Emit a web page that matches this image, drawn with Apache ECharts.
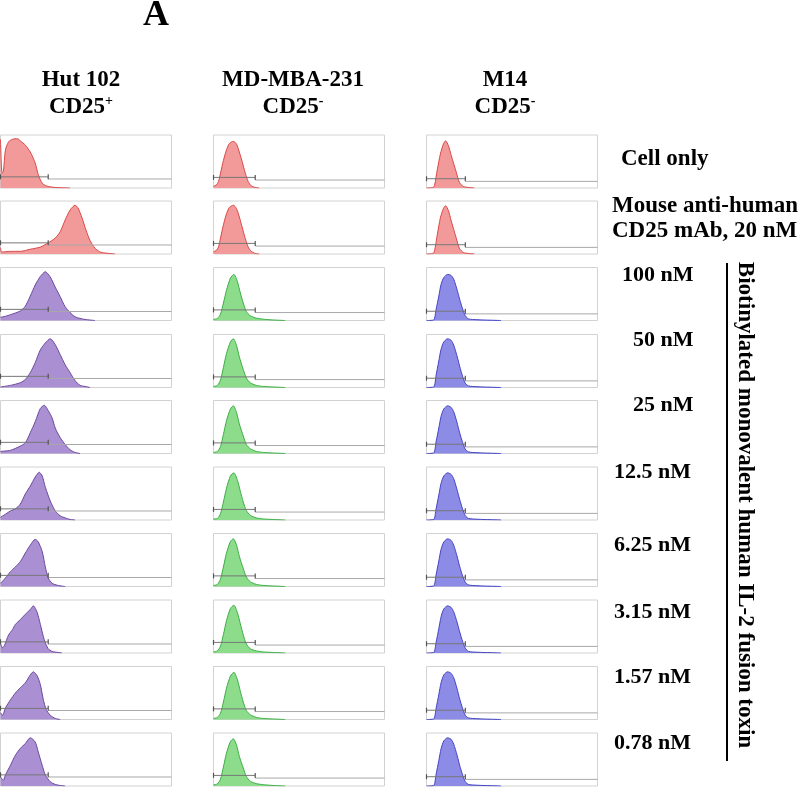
<!DOCTYPE html>
<html><head><meta charset="utf-8">
<script src="https://cdn.jsdelivr.net/npm/echarts@6/dist/echarts.min.js"></script>
<style>html,body{margin:0;padding:0;background:#fff}#c{width:800px;height:787px}</style>
</head><body><div id="c"></div><script>
// ---- labels ----
const cellLines = ['Hut 102', 'MD-MBA-231', 'M14'];
const cd25Status = ['+', '-', '-'];
const treatmentLabels = ['Cell only', 'Mouse anti-human', 'CD25 mAb, 20 nM'];
const concLabels = ['100 nM', '50 nM', '25 nM', '12.5 nM', '6.25 nM', '3.15 nM', '1.57 nM', '0.78 nM'];
const sideTitle = 'Biotinylated monovalent human IL-2 fusion toxin';
const panelTitle = 'A';

// ---- histograms: [fluorescence channel (0-100), relative count (% of max)] ----
const hut_r1 = [[0,92],[0.9,28],[1.7,32],[2.9,72],[4.7,87],[7,92],[9.9,93],[11.6,89],[14.5,81],[17.4,68],[20.3,47],[22.1,25],[24.4,9],[26.7,4],[32,1],[40.7,0]];
const hut_r2 = [[0,12],[0.6,4],[1.7,4],[5.8,5],[11.6,5],[17.4,9],[23.3,13],[27.9,21],[32,30],[34.9,42],[37.8,64],[40.7,83],[43.6,92],[45.3,87],[47.7,68],[50,45],[52.3,26],[55.2,11],[58.1,4],[61,2],[66.9,0]];
const hut_r3 = [[0,6],[2.9,8],[5.8,11],[11.6,18],[14.5,27],[17.4,46],[20.3,67],[23.3,83],[26.2,92],[29.1,82],[32,63],[34.9,45],[37.8,26],[40.7,15],[43.6,7],[46.5,4],[49.4,2],[55.2,0]];
const hut_r4 = [[0,1],[5.8,4],[11.6,9],[14.5,15],[17.4,28],[20.3,47],[23.3,71],[26.2,84],[29.1,92],[32,81],[34.9,62],[37.8,43],[40.7,28],[43.6,13],[46.5,4],[49.4,2],[52.3,0]];
const hut_r5 = [[0,4],[5.8,6],[11.6,14],[14.5,20],[17.4,39],[20.3,60],[23.3,85],[25.6,91],[27.9,81],[30.2,67],[32,48],[34.9,30],[37.8,17],[40.7,7],[43.6,2],[46.5,0]];
const hut_r6 = [[0,5],[2.9,11],[5.8,17],[8.7,21],[11.6,30],[14.5,49],[17.4,64],[20.3,81],[22.7,90],[24.4,83],[26.2,62],[29.1,36],[32,17],[34.9,8],[37.8,4],[40.7,1],[43.6,0]];
const hut_r7 = [[0,6],[2.9,16],[5.8,28],[8.7,37],[11.6,47],[14.5,63],[17.4,78],[20.3,89],[22.1,84],[24.4,66],[26.2,37],[27.9,16],[30.2,6],[33.7,2],[37.8,0]];
const hut_r8 = [[0,18],[1.2,10],[2.3,14],[4.7,34],[7,44],[8.7,54],[11.6,63],[14.5,73],[17.4,82],[19.2,89],[21.5,76],[23.3,54],[25.6,25],[27.9,8],[30.2,3],[33.7,1],[36,0]];
const hut_r9 = [[0,13],[1.2,8],[2.9,22],[5.8,37],[8.7,50],[11.6,60],[14.5,69],[17.4,84],[19.2,90],[21.5,82],[23.3,66],[25,38],[26.7,19],[29.1,8],[32,2],[34.9,0]];
const hut_r10 = [[0,17],[1.7,11],[2.9,21],[5.8,39],[8.7,58],[11.6,71],[14.5,80],[17.4,91],[20.3,83],[22.1,64],[24.4,39],[26.2,21],[29.1,8],[32,3],[34.9,1],[37.8,0]];

const mda_r1 = [[0,3],[1.7,6],[2.9,12],[4.1,28],[5.8,52],[7.6,72],[9.3,84],[11.6,88],[13.4,83],[15.1,68],[16.9,48],[18.6,28],[20.3,12],[22.1,4],[24.4,1],[26.7,0]];
const mda_r2 = [[0,4],[1.7,7],[2.9,13],[4.1,30],[5.8,55],[7.6,76],[9.3,88],[11.6,92],[13.4,86],[15.1,70],[16.9,49],[18.6,29],[20.3,13],[22.1,5],[24.4,1],[26.7,0]];
const mda_r3 = [[0,2],[2.3,4],[4.1,12],[5.8,33],[7.6,57],[9.9,80],[11.9,87],[14,73],[15.7,52],[17.4,33],[19.2,17],[21.5,9],[25,4.5],[29.1,2.5],[34.9,1],[41.9,0]];
const mda_r4 = [[0,2],[2.3,4],[4.1,14],[5.8,38],[7.6,64],[9.9,86],[11.6,92],[13.4,80],[15.1,58],[17.4,34],[19.2,18],[21.5,9],[25,4],[29.1,2],[34.9,1],[41.9,0]];
const mda_r5 = [[0,2],[2.3,4],[4.1,13],[5.8,36],[7.6,62],[9.9,84],[11.6,90],[13.4,78],[15.1,56],[17.4,33],[19.2,17],[21.5,9],[25,4],[29.1,2],[34.9,1],[41.9,0]];
const mda_r6 = [[0,2],[2.3,3],[4.1,12],[5.8,34],[7.6,60],[9.9,83],[11.9,89],[14,75],[15.7,54],[17.4,34],[19.2,18],[21.5,9],[25,4],[29.1,2],[34.9,1],[41.9,0]];
const mda_r7 = [[0,2],[2.3,4],[4.1,14],[5.8,37],[7.6,63],[9.9,85],[11.6,90],[13.4,79],[15.1,57],[17.4,34],[19.2,18],[21.5,9],[25,4],[29.1,2],[34.9,1],[41.9,0]];
const mda_r8 = [[0,2],[2.3,4],[4.1,13],[5.8,35],[7.6,61],[9.9,84],[11.9,90],[14,76],[15.7,55],[17.4,34],[19.2,17],[21.5,8],[25,4],[29.1,2],[34.9,1],[41.9,0]];
const mda_r9 = [[0,2],[2.3,4],[4.1,12],[5.8,33],[7.6,59],[9.9,82],[11.9,89],[14,75],[15.7,53],[17.4,33],[19.2,17],[21.5,9],[25,4],[29.1,2],[34.9,1],[41.9,0]];
const mda_r10 = [[0,2],[2.3,4],[4.1,13],[5.8,36],[7.6,62],[9.9,84],[11.6,89],[13.4,78],[15.1,56],[17.4,34],[19.2,18],[21.5,9],[25,4.5],[29.1,2.5],[34.9,1],[41.9,0]];

const m14_r1 = [[0,0],[3.8,1],[4.7,5],[6.4,36],[8.1,64],[9.9,83],[11.2,89],[12.8,80],[14.5,61],[17.4,30],[19.2,11],[21.5,3],[24.4,1],[27.9,0]];
const m14_r2 = [[0,0],[3.8,1],[4.7,6],[6.4,38],[8.1,68],[9.9,86],[11.2,91],[12.8,82],[14.5,62],[17.4,30],[19.2,11],[21.5,3],[24.4,1],[27.9,0]];
const m14_r3 = [[0,0],[4.2,1],[5.6,21],[7.2,46],[8.5,68],[10.1,81],[12.4,87],[14.4,85],[15.9,78],[17.8,59],[19.4,40],[21.1,22],[22.7,9],[24.6,3],[29.5,1.5],[34.9,0.8],[43.6,0]];
const m14_r4 = [[0,0],[4.2,1],[5.6,23],[7.2,50],[8.5,72],[10.1,86],[12.4,92],[14.4,89],[15.9,80],[17.8,60],[19.4,40],[21.1,21],[22.7,8],[24.6,3],[29.5,1.5],[34.9,0.8],[43.6,0]];
const m14_r5 = [[0,0],[4.2,1],[5.6,22],[7.2,48],[8.5,70],[10.1,84],[12.4,90],[14.4,87],[15.9,79],[17.8,59],[19.4,39],[21.1,21],[22.7,8],[24.6,3],[29.5,1.5],[34.9,0.8],[43.6,0]];
const m14_r6 = [[0,0],[4.2,1],[5.6,21],[7.2,47],[8.5,69],[10.1,83],[12.4,89],[14.4,86],[15.9,78],[17.8,58],[19.4,39],[21.1,21],[22.7,8],[24.6,3],[29.5,1.5],[34.9,0.8],[43.6,0]];
const m14_r7 = [[0,0],[4.2,1],[5.6,22],[7.2,48],[8.5,70],[10.1,84],[12.4,90],[14.4,87],[15.9,78],[17.8,58],[19.4,38],[21.1,20],[22.7,8],[24.6,3],[29.5,1.5],[34.9,0.8],[43.6,0]];
const m14_r8 = [[0,0],[4.2,1],[5.6,20],[7.2,46],[8.5,68],[10.1,83],[12.4,89],[14.4,86],[15.9,78],[17.8,59],[19.4,40],[21.1,22],[22.7,9],[24.6,3],[29.5,1.5],[34.9,0.8],[43.6,0]];
const m14_r9 = [[0,0],[4.2,1],[5.6,21],[7.2,47],[8.5,69],[10.1,84],[12.4,90],[14.4,87],[15.9,79],[17.8,59],[19.4,39],[21.1,21],[22.7,8],[24.6,3],[29.5,1.5],[34.9,0.8],[43.6,0]];
const m14_r10 = [[0,0],[4.2,1],[5.6,22],[7.2,48],[8.5,70],[10.1,85],[12.4,91],[14.4,88],[15.9,79],[17.8,59],[19.4,39],[21.1,21],[22.7,8],[24.6,3],[29.5,1.5],[34.9,0.8],[43.6,0]];

// gate marker per column: [gate channel, left level, right level]
const gateChannel = [27.9, 24.4, 22.7];
const gateLeftLevel = [21, 20, 17.5];
const gateRightLevel = [17, 15, 12.5];

// ---- build ----
const columnsData = [
  [hut_r1,hut_r2,hut_r3,hut_r4,hut_r5,hut_r6,hut_r7,hut_r8,hut_r9,hut_r10],
  [mda_r1,mda_r2,mda_r3,mda_r4,mda_r5,mda_r6,mda_r7,mda_r8,mda_r9,mda_r10],
  [m14_r1,m14_r2,m14_r3,m14_r4,m14_r5,m14_r6,m14_r7,m14_r8,m14_r9,m14_r10]
];
const RED = {fill:'#f29a9a', line:'#d94848'};
const colColors = [
  {fill:'#ab8fd3', line:'#6b4a9e'},
  {fill:'#8cdc8c', line:'#3cae44'},
  {fill:'#8c8ce6', line:'#4444c4'}
];
const rowTops = [135, 201, 267.5, 334.5, 400.5, 467, 533.5, 600, 666.5, 733];
const colLefts = [0.5, 213.5, 426.5];
const PW = 171, PH = 53;

const grids = [], xAxes = [], yAxes = [], series = [];
let gi = 0;
for (let c = 0; c < 3; c++) {
  for (let r = 0; r < 10; r++) {
    grids.push({left: colLefts[c], top: rowTops[r], width: PW, height: PH, show: true,
      borderColor: '#d2d2d2', borderWidth: 1, backgroundColor: '#fff', containLabel: false});
    xAxes.push({type:'value', gridIndex: gi, min: 0, max: 100, show: false});
    yAxes.push({type:'value', gridIndex: gi, min: 0, max: 100, show: false});
    const col = r < 2 ? RED : colColors[c];
    series.push({type:'line', xAxisIndex: gi, yAxisIndex: gi, data: columnsData[c][r],
      smooth: 0.25, symbol: 'none', silent: true, z: 2,
      lineStyle: {color: col.line, width: 1}, areaStyle: {color: col.fill, opacity: 1}});
    series.push({type:'line', xAxisIndex: gi, yAxisIndex: gi, silent: true, z: 3,
      data: [[0, gateLeftLevel[c]], [gateChannel[c], gateLeftLevel[c]]],
      symbol: 'rect', symbolSize: [1.2, 5], itemStyle: {color: '#555'},
      lineStyle: {color: '#777', width: 1}});
    series.push({type:'line', xAxisIndex: gi, yAxisIndex: gi, silent: true, z: 3,
      data: [[gateChannel[c], gateRightLevel[c]], [100, gateRightLevel[c]]],
      symbol: 'none', lineStyle: {color: '#a8a8a8', width: 1}});
    gi++;
  }
}

const SERIF = '"Liberation Serif", "Times New Roman", serif';
const graphic = [];
graphic.push({type:'text', x: 156, y: 16, style: {text: panelTitle, font: 'bold 36px ' + SERIF, fill: '#000', align: 'center', verticalAlign: 'middle'}});
const headerX = [81, 293, 505];
for (let c = 0; c < 3; c++) {
  graphic.push({type:'text', x: headerX[c], y: 80, style: {text: cellLines[c], font: 'bold 23px ' + SERIF, fill: '#000', align: 'center', verticalAlign: 'middle'}});
  graphic.push({type:'text', x: headerX[c], y: 107, style: {
    text: '{a|CD25}{s|' + cd25Status[c] + '}', align: 'center', verticalAlign: 'middle',
    rich: {a: {font: 'bold 23px ' + SERIF, fill: '#000', lineHeight: 25},
           s: {font: 'bold 14px ' + SERIF, fill: '#000', verticalAlign: 'top', lineHeight: 25}}}});
}
const treatPos = [[621, 159], [612, 206], [612, 231]];
treatmentLabels.forEach((t, i) => graphic.push({type:'text', x: treatPos[i][0], y: treatPos[i][1],
  style: {text: t, font: 'bold 23px ' + SERIF, fill: '#000', align: 'left', verticalAlign: 'middle'}}));
const concPos = [[622,275],[633,340],[633,405],[614,472],[614,545],[614,612],[614,677],[614,743]];
concLabels.forEach((t, i) => graphic.push({type:'text', x: concPos[i][0], y: concPos[i][1],
  style: {text: t, font: 'bold 22px ' + SERIF, fill: '#000', align: 'left', verticalAlign: 'middle'}}));
graphic.push({type:'line', shape: {x1: 727, y1: 263, x2: 727, y2: 761}, style: {stroke: '#000', lineWidth: 2}});
graphic.push({type:'text', x: 745, y: 505, rotation: -Math.PI / 2, style: {text: sideTitle,
  font: 'bold 23px ' + SERIF, fill: '#000', align: 'center', verticalAlign: 'middle'}});

const chart = echarts.init(document.getElementById('c'), null, {renderer: 'canvas'});
chart.setOption({backgroundColor: '#fff', animation: false, grid: grids, xAxis: xAxes, yAxis: yAxes, series, graphic});
</script></body></html>
